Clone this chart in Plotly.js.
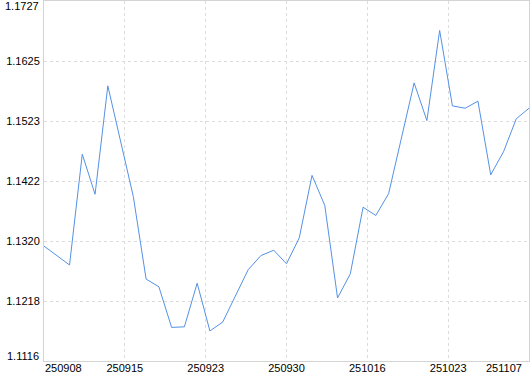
<!DOCTYPE html>
<html>
<head>
<meta charset="utf-8">
<script src="https://cdn.plot.ly/plotly-3.0.1.min.js"></script>
<style>html,body{margin:0;padding:0;background:#fff;}#chart{width:530px;height:374px;}</style>
</head>
<body>
<div id="chart"></div>
<script>
var dates = ["250908","250909","250910","250911","250912","250915","250916","250917","250918","250919",
  "250922","250923","250924","250925","250926","250929","250930","251009","251010","251013",
  "251014","251015","251016","251017","251020","251021","251022","251023","251024","251027",
  "251028","251029","251030","251031","251103","251104","251105","251106","251107"];
var values = [1.1311,1.1295,1.1279,1.1467,1.1399,1.1583,1.1489,1.1395,1.1255,1.1242,
  1.1173,1.1174,1.1248,1.1167,1.1182,1.1227,1.1271,1.1295,1.1304,1.1281,
  1.1325,1.1431,1.1380,1.1223,1.1264,1.1377,1.1363,1.1400,1.1492,1.1588,
  1.1524,1.1677,1.1549,1.1545,1.1557,1.1432,1.1471,1.1527,1.1545];
var xTickLabels = ["250908","250915","250923","250930","251016","251023","251107"];
var yTickLabels = ["1.1116","1.1218","1.1320","1.1422","1.1523","1.1625","1.1727"];

var yMin = 1.1116, yMax = 1.1727;
var n = dates.length;
var idx = dates.map(function(d, i){ return i; });
var nT = xTickLabels.length;
var xTickVals = xTickLabels.map(function(t, k){ return k * (n - 1) / (nT - 1); });
var yTickVals = yTickLabels.map(function(t, k){ return yMin + k * (yMax - yMin) / (yTickLabels.length - 1); });
var xTickText = xTickLabels.map(function(t, k){ return (k === 0 || k === nT - 1) ? "" : t; });
var yTickText = yTickLabels.map(function(t, k){ return (k === 0 || k === yTickLabels.length - 1) ? "" : t; });

var font = {family: "Liberation Sans, Arial, sans-serif", size: 11, color: "#000"};

var trace = {
  x: idx, y: values, text: dates, type: "scatter", mode: "lines",
  line: {color: "#5591e6", width: 1}, hoverinfo: "text+y"
};

var layout = {
  width: 530, height: 374,
  margin: {l: 44, r: 1, t: 1, b: 13, pad: 0},
  paper_bgcolor: "#fff", plot_bgcolor: "#fff",
  showlegend: false,
  font: font,
  xaxis: {
    range: [0, n - 1], tickmode: "array", tickvals: xTickVals, ticktext: xTickText,
    showgrid: true, gridcolor: "#dcdcdc", griddash: "3px,3px", gridwidth: 1,
    showline: true, linecolor: "#d4d4d4", linewidth: 1, mirror: true,
    zeroline: false, ticks: "", tickfont: font, ticklabelstandoff: -3, fixedrange: true
  },
  yaxis: {
    range: [yMin, yMax], tickmode: "array", tickvals: yTickVals, ticktext: yTickText,
    showgrid: true, gridcolor: "#dcdcdc", griddash: "3px,3px", gridwidth: 1,
    showline: true, linecolor: "#d4d4d4", linewidth: 1, mirror: true,
    zeroline: false, ticks: "outside", ticklen: 1, tickcolor: "rgba(0,0,0,0)", tickfont: font, fixedrange: true
  },
  annotations: [
    {xref: "x", yref: "paper", x: xTickVals[0], y: 0, xanchor: "left", yanchor: "top", text: xTickLabels[0], showarrow: false, font: font, borderpad: 0, yshift: 0},
    {xref: "x", yref: "paper", x: xTickVals[nT - 1], y: 0, xanchor: "right", yanchor: "top", text: xTickLabels[nT - 1], showarrow: false, font: font, borderpad: 0, xshift: -6},
    {xref: "paper", yref: "y", x: 0, y: yTickVals[yTickVals.length - 1], xanchor: "right", yanchor: "top", text: yTickLabels[yTickLabels.length - 1], showarrow: false, font: font, borderpad: 0, xshift: -4, yshift: 2},
    {xref: "paper", yref: "y", x: 0, y: yTickVals[0], xanchor: "right", yanchor: "bottom", text: yTickLabels[0], showarrow: false, font: font, borderpad: 0, xshift: -4, yshift: -2}
  ]
};

Plotly.newPlot("chart", [trace], layout, {displayModeBar: false, staticPlot: true});
</script>
</body>
</html>
